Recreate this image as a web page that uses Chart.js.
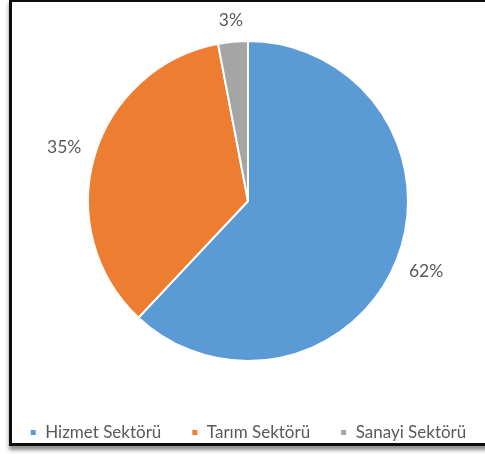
<!DOCTYPE html>
<html>
<head>
<meta charset="utf-8">
<script src="https://cdn.jsdelivr.net/npm/chart.js@4/dist/chart.umd.min.js"></script>
<style>
    html, body { margin: 0; padding: 0; background: #fff; }
    #page {
        position: relative;
        width: 485px;
        height: 454px;
        overflow: hidden;
    }
    #frame {
        position: absolute;
        left: 9px;
        top: -1px;
        width: 540px;
        height: 441px;
        border: 3px solid #0d0d0d;
        background: #fff;
        box-shadow: 0 4px 4px rgba(0, 0, 0, 0.45);
    }
    #pieChart { position: absolute; left: -30px; top: 0; }
</style>
</head>
<body>
<div id="page">
    <div id="frame"></div>
    <canvas id="pieChart" width="545" height="454"></canvas>
</div>
<script>
const sectors = ['Hizmet Sektörü', 'Tarım Sektörü', 'Sanayi Sektörü'];
const shares = [62, 35, 3];
const sliceColors = ['#5B9BD5', '#ED7D31', '#A5A5A5'];

const textColor = '#595959';
const fontFamily = 'Lato, "Open Sans", sans-serif';

// percentage labels placed just outside each slice
const outsideLabels = {
    id: 'outsideLabels',
    afterDatasetsDraw(chart) {
        const ctx = chart.ctx;
        const meta = chart.getDatasetMeta(0);
        ctx.save();
        ctx.font = '17.5px ' + fontFamily;
        ctx.fillStyle = textColor;
        ctx.textAlign = 'center';
        ctx.textBaseline = 'middle';
        meta.data.forEach((arc, i) => {
            const p = arc.getProps(['x', 'y', 'startAngle', 'endAngle', 'outerRadius'], true);
            const mid = (p.startAngle + p.endAngle) / 2;
            const text = shares[i] + '%';
            const w = ctx.measureText(text).width;
            const dist = p.outerRadius + 13 + Math.abs(Math.cos(mid)) * w / 2 + Math.abs(Math.sin(mid)) * 7;
            ctx.fillText(text, p.x + Math.cos(mid) * dist, p.y + Math.sin(mid) * dist);
        });
        ctx.restore();
    }
};

const pieChart = new Chart(document.getElementById('pieChart'), {
    type: 'pie',
    data: {
        labels: sectors,
        datasets: [{
            data: shares,
            backgroundColor: sliceColors,
            borderColor: '#ffffff',
            borderWidth: 2
        }]
    },
    options: {
        responsive: false,
        animation: false,
        radius: 160,
        layout: {
            padding: { top: 8, bottom: 3, left: 11, right: 0 }
        },
        plugins: {
            legend: {
                position: 'bottom',
                labels: {
                    boxWidth: 7,
                    boxHeight: 7,
                    padding: 30,
                    color: textColor,
                    font: { size: 17, family: fontFamily }
                }
            },
            tooltip: { enabled: false }
        }
    },
    plugins: [outsideLabels]
});
</script>
</body>
</html>
